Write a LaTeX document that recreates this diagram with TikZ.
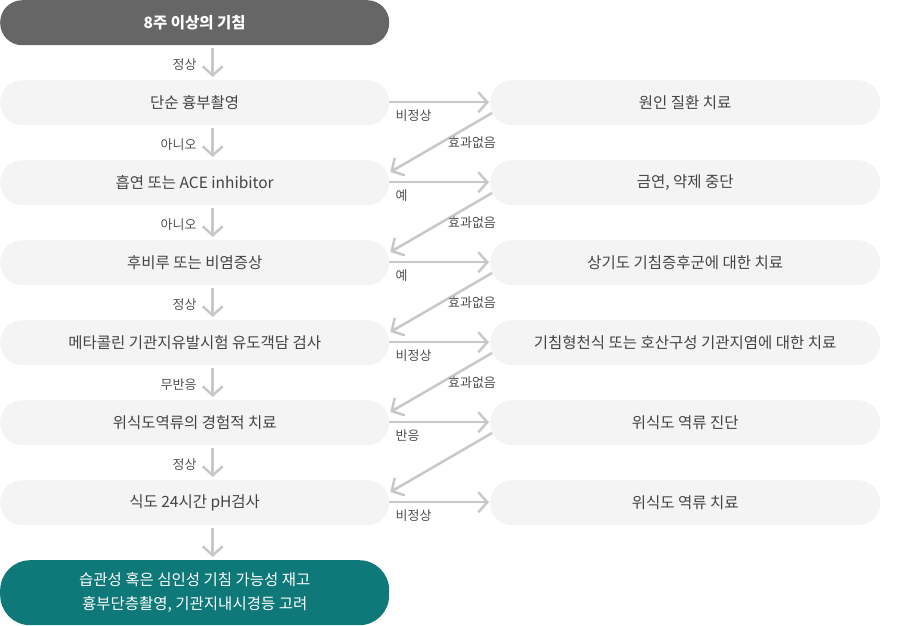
\documentclass[tikz,border=0pt]{standalone}
\usepackage{fontspec}
\setmainfont{Noto Sans CJK KR}
\usetikzlibrary{arrows.meta}
\definecolor{boxfill}{HTML}{F4F4F4}
\definecolor{darkbox}{HTML}{666666}
\definecolor{tealbox}{HTML}{0F7878}
\definecolor{arrowgray}{HTML}{C8C8C8}
\definecolor{txt}{HTML}{444444}
\definecolor{lbl}{HTML}{505050}
\tikzset{
  lbox/.style={fill=boxfill, rounded corners=22pt, minimum width=389pt, minimum height=45pt, inner sep=0pt, text=txt, font=\fontsize{15.5}{18}\selectfont, anchor=north west},
  rbox/.style={lbox, minimum width=390pt},
  flowarrow/.style={draw=arrowgray, line width=2.5pt, -{Straight Barb[length=9pt,width=20pt,line width=2.5pt]}},
  lab/.style={text=lbl, font=\fontsize{13}{15}\selectfont, inner sep=0pt},
}
\begin{document}
\begin{tikzpicture}[x=1pt,y=-1pt]
\useasboundingbox (0,0) rectangle (900,625);
% left column
\node[lbox, fill=darkbox, text=white, font=\fontsize{15.5}{18}\selectfont\bfseries] (l0) at (0,0) {8주 이상의 기침};
\node[lbox] (l1) at (0,80) {단순 흉부촬영};
\node[lbox] (l2) at (0,160) {흡연 또는 ACE inhibitor};
\node[lbox] (l3) at (0,240) {후비루 또는 비염증상};
\node[lbox] (l4) at (0,320) {메타콜린 기관지유발시험 유도객담 검사};
\node[lbox] (l5) at (0,400) {위식도역류의 경험적 치료};
\node[lbox] (l6) at (0,480) {식도 24시간 pH검사};
\node[lbox, fill=tealbox, text=white, minimum height=65pt, rounded corners=30pt, align=center, font=\fontsize{15.5}{24}\selectfont] (l7) at (0,560) {습관성 혹은 심인성 기침 가능성 재고\\흉부단층촬영, 기관지내시경등 고려};
% right column
\node[rbox] (r1) at (490,80) {원인 질환 치료};
\node[rbox] (r2) at (490,160) {금연, 약제 중단};
\node[rbox] (r3) at (490,240) {상기도 기침증후군에 대한 치료};
\node[rbox] (r4) at (490,320) {기침형천식 또는 호산구성 기관지염에 대한 치료};
\node[rbox] (r5) at (490,400) {위식도 역류 진단};
\node[rbox] (r6) at (490,480) {위식도 역류 치료};
% vertical arrows
\foreach \a/\b/\t in {l0/l1/정상, l1/l2/아니오, l2/l3/아니오, l3/l4/정상, l4/l5/무반응, l5/l6/정상, l6/l7/{}}{
  \coordinate (s) at ([xshift=18pt,yshift=-3pt]\a.south);
  \coordinate (e) at ([xshift=18pt,yshift=3pt]\b.north);
  \draw[flowarrow] (s) -- (e);
  \node[lab, anchor=east] at ([xshift=-16pt,yshift=-19pt]\a.south -| s) {\t};
}
% horizontal arrows
\foreach \a/\b/\t in {l1/r1/비정상, l2/r2/예, l3/r3/예, l4/r4/비정상, l5/r5/반응, l6/r6/비정상}{
  \draw[flowarrow] ([yshift=0.5pt]\a.east) -- ([xshift=-1pt,yshift=0.5pt]\b.west);
  \node[lab, anchor=west] at ([xshift=6pt,yshift=-13pt]\a.east) {\t};
}
% diagonal arrows
\foreach \a/\b/\t in {r1/l2/효과없음, r2/l3/효과없음, r3/l4/효과없음, r4/l5/효과없음, r5/l6/{}}{
  \draw[flowarrow] ([xshift=2pt,yshift=-33pt]\a.north west) -- ([xshift=1pt,yshift=-12pt]\b.north east);
  \node[lab] at ([xshift=-18pt,yshift=-63pt]\a.north west) {\t};
}
\end{tikzpicture}
\end{document}
